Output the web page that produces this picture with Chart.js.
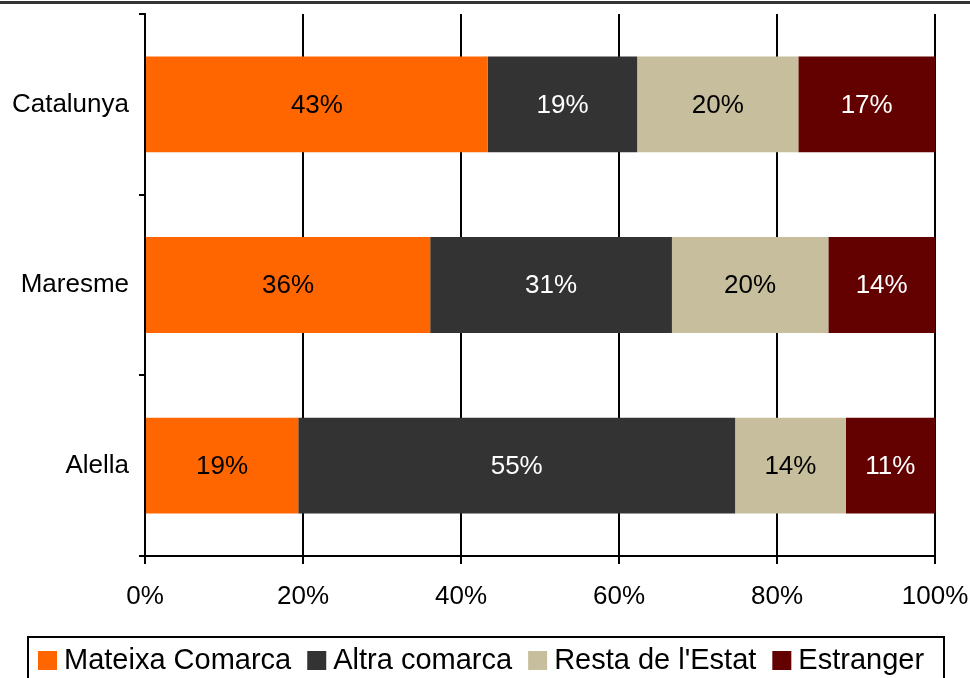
<!DOCTYPE html>
<html>
<head>
<meta charset="utf-8">
<script src="https://cdn.jsdelivr.net/npm/chart.js@4"></script>
<style>
  html, body { margin: 0; padding: 0; background: #fff; overflow: hidden; }
  #wrap { width: 970px; height: 678px; overflow: hidden; }
</style>
</head>
<body>
<div id="wrap"><canvas id="chart" width="970" height="700"></canvas></div>
<script>
// data
const categories = ["Catalunya", "Maresme", "Alella"];
const seriesNames = ["Mateixa Comarca", "Altra comarca", "Resta de l'Estat", "Estranger"];
const mateixaComarca = [43.4, 36.1, 19.4];
const altraComarca = [18.9, 30.6, 55.3];
const restaEstat = [20.4, 19.8, 14.0];
const estranger = [17.3, 13.5, 11.3];
const xTicks = [0, 20, 40, 60, 80, 100];

const barColors = ["#FF6600", "#333333", "#C6BE9C", "#630000"];
const labelColors = ["#000000", "#FFFFFF", "#000000", "#FFFFFF"];
const FONT = "'Liberation Sans', Arial, sans-serif";

// value labels inside each bar segment
const barLabels = {
  id: "barLabels",
  afterDatasetsDraw(chart) {
    const ctx = chart.ctx;
    ctx.save();
    ctx.font = "26px " + FONT;
    ctx.textAlign = "center";
    ctx.textBaseline = "middle";
    chart.data.datasets.forEach((ds, i) => {
      const meta = chart.getDatasetMeta(i);
      ctx.fillStyle = labelColors[i];
      meta.data.forEach((bar, j) => {
        const cx = (bar.x + bar.base) / 2;
        ctx.fillText(Math.round(ds.data[j]) + "%", cx, bar.y + 1);
      });
    });
    ctx.restore();
  },
};

// top rule and the boxed legend under the chart
const frameLegend = {
  id: "frameLegend",
  afterDraw(chart) {
    const ctx = chart.ctx;
    ctx.save();
    ctx.fillStyle = "#333333";
    ctx.fillRect(0, 1, chart.width, 3);

    const top = chart.chartArea.bottom + 81;
    ctx.strokeStyle = "#000";
    ctx.lineWidth = 2;
    ctx.strokeRect(28, top, 916, 60);

    ctx.font = "29px " + FONT;
    ctx.textBaseline = "middle";
    ctx.textAlign = "left";
    let x = 38;
    chart.data.datasets.forEach((ds, i) => {
      ctx.fillStyle = ds.backgroundColor;
      ctx.fillRect(x, top + 14, 19, 19);
      x += 26;
      ctx.fillStyle = "#000";
      ctx.fillText(ds.label, x, top + 24);
      x += ctx.measureText(ds.label).width + 16;
    });
    ctx.restore();
  },
};

const allSeries = [mateixaComarca, altraComarca, restaEstat, estranger];

new Chart(document.getElementById("chart"), {
  type: "bar",
  data: {
    labels: categories,
    datasets: allSeries.map((vals, i) => ({
      label: seriesNames[i],
      data: vals,
      backgroundColor: barColors[i],
      borderWidth: 0,
      categoryPercentage: 1,
      barPercentage: 0.53,
    })),
  },
  options: {
    indexAxis: "y",
    responsive: false,
    animation: false,
    devicePixelRatio: 1,
    layout: { padding: { top: 14, right: 35, bottom: 84, left: 0 } },
    plugins: {
      legend: { display: false },
      tooltip: { enabled: false },
    },
    scales: {
      x: {
        stacked: true,
        min: 0,
        max: 100,
        afterBuildTicks(scale) {
          scale.ticks = xTicks.map((v) => ({ value: v }));
        },
        afterFit(scale) {
          scale.height = 60;
          scale.paddingLeft = 0;
          scale.paddingRight = 0;
        },
        ticks: {
          callback: (v) => v + "%",
          color: "#000",
          padding: 17,
          maxRotation: 0,
          font: { family: FONT, size: 26 },
        },
        grid: { color: "#000", lineWidth: 2, tickLength: 8 },
        border: { color: "#000", width: 2 },
      },
      y: {
        stacked: true,
        afterFit(scale) {
          scale.width = 145;
          scale.paddingTop = 0;
          scale.paddingBottom = 0;
        },
        ticks: {
          color: "#000",
          padding: 10,
          font: { family: FONT, size: 26 },
        },
        grid: { color: "#000", lineWidth: 2, drawOnChartArea: false, tickLength: 6, offset: true },
        border: { color: "#000", width: 2 },
      },
    },
  },
  plugins: [barLabels, frameLegend],
});
</script>
</body>
</html>
